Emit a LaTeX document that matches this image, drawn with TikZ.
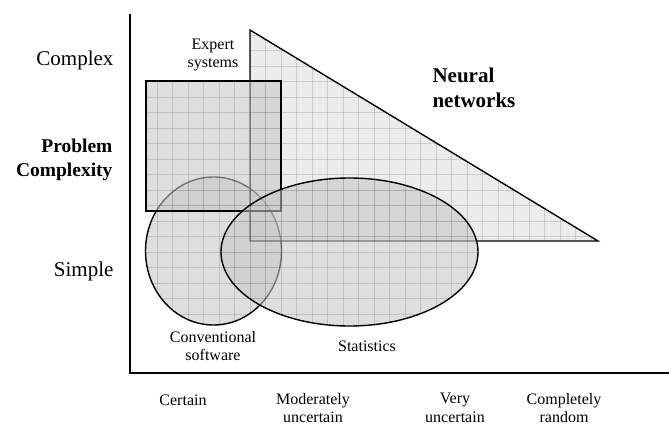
\documentclass[tikz,border=0pt]{standalone}
\usepackage{fontspec}
\setmainfont{Liberation Serif}
\usetikzlibrary{calc}

\tikzset{
  region/.style={draw=black, line width=1.4pt, fill=black!22, fill opacity=0.58},
  cell/.style={draw=black, line width=0.45pt, opacity=0.13},
  axisline/.style={draw=black, line width=1.3pt},
  biglabel/.style={font=\fontsize{21}{24}\selectfont, align=center},
  smalllabel/.style={font=\fontsize{16}{18.5}\selectfont, align=center},
}
\newcommand{\cellgrid}{%
  \foreach \gx in {2,17.5,...,669} {\draw[cell] (\gx,0) -- (\gx,425);}
  \foreach \gy in {4,19.5,...,425} {\draw[cell] (0,\gy) -- (669,\gy);}
}

\begin{document}
\begin{tikzpicture}[x=1pt, y=-1pt]

    \useasboundingbox (0,0) rectangle (669,425);

    % regions, back to front
    \filldraw[region] (213.5,251) ellipse [x radius=68, y radius=74];
    \begin{scope}
      \clip (213.5,251) ellipse [x radius=68, y radius=74];
      \cellgrid
    \end{scope}

    \filldraw[region, fill opacity=0.34] (250,30) -- (598,241) -- (250,241) -- cycle;
    \begin{scope}
      \clip (250,30) -- (598,241) -- (250,241) -- cycle;
      \cellgrid
    \end{scope}

    \filldraw[region] (146,81) rectangle (281,211);
    \begin{scope}
      \clip (146,81) rectangle (281,211);
      \cellgrid
    \end{scope}

    \filldraw[region] (349.5,252) ellipse [x radius=128.5, y radius=74];
    \begin{scope}
      \clip (349.5,252) ellipse [x radius=128.5, y radius=74];
      \cellgrid
    \end{scope}

    % axes
    \draw[axisline] (130,14) -- (130,373) -- (669,373);

    % labels
    \node[biglabel, anchor=east] (complex) at (117,60) {Complex};
    \node[font=\fontsize{19.5}{24.5}\selectfont\bfseries, align=right, anchor=east] (problem) at (116,160) {Problem\\Complexity};
    \node[biglabel, anchor=east] (simple) at (117,271) {Simple};

    \node[smalllabel] (expert) at (213,55) {Expert\\systems};
    \node[font=\fontsize{21}{25}\selectfont\bfseries, align=left, anchor=west] (neural) at (429,88) {Neural\\networks};
    \node[smalllabel] (conv) at (213,346) {Conventional\\software};
    \node[smalllabel] (stats) at (367,346) {Statistics};

    \node[smalllabel] (certain) at (183,400) {Certain};
    \node[smalllabel] (moderate) at (313,408) {Moderately\\uncertain};
    \node[smalllabel] (very) at (455,408) {Very\\uncertain};
    \node[smalllabel] (random) at (564,408) {Completely\\random};

\end{tikzpicture}
\end{document}
